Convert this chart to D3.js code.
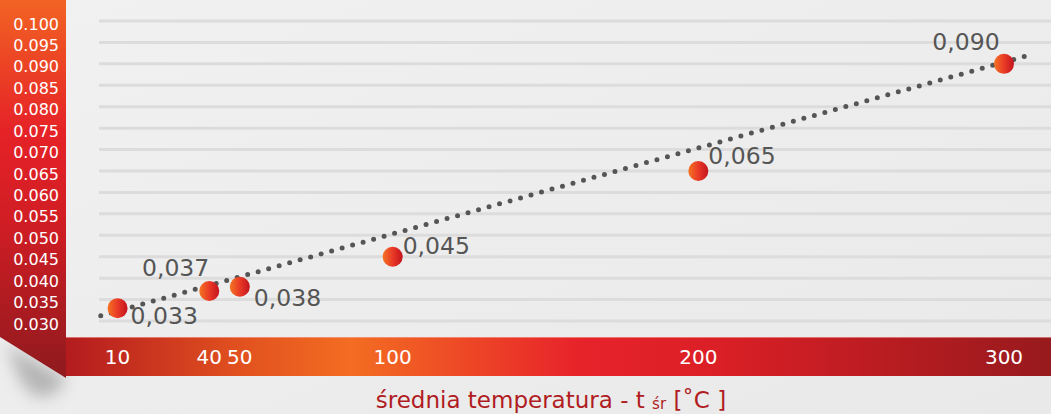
<!DOCTYPE html>
<html>
<head>
<meta charset="utf-8">
<script src="https://cdn.jsdelivr.net/npm/d3@7/dist/d3.min.js"></script>
<style>
  html, body { margin: 0; padding: 0; background: #ececec; }
  svg { display: block; }
  text { font-family: "DejaVu Sans", sans-serif; }
</style>
</head>
<body>
<svg id="chart" width="1051" height="414"></svg>
<script>
// ---- data ----
const temperatures = [10, 40, 50, 100, 200, 300];
const conductivity = [0.033, 0.037, 0.038, 0.045, 0.065, 0.090];
const xTickValues = [10, 40, 50, 100, 200, 300];
const yTickValues = [0.100, 0.095, 0.090, 0.085, 0.080, 0.075, 0.070, 0.065, 0.060, 0.055, 0.050, 0.045, 0.040, 0.035, 0.030];
const trendT = [4.5, 309.5];
const trendV = [0.0312, 0.0923];
const axisTitle = "średnia temperatura - t";
const axisTitleSub = "śr";
const axisTitleUnit = " [˚C ]";

// label placement (style, not data)
const labelPlace = [
  {anchor: "start", dx: 13, dy: 16},
  {anchor: "end", dx: 0, dy: -15},
  {anchor: "start", dx: 14, dy: 19},
  {anchor: "start", dx: 10, dy: -3},
  {anchor: "start", dx: 10, dy: -7},
  {anchor: "middle", dx: -38, dy: -14}
];

const W = 1051, H = 414;
const svg = d3.select("#chart");
const defs = svg.append("defs");

const x = d3.scaleLinear().domain([0, 300]).range([87, 1004]);
const y = d3.scaleLinear().domain([0.03, 0.1]).range([321, 21]);
const commaFmt = d3.formatLocale({decimal: ",", thousands: ".", grouping: [3], currency: ["", ""]}).format(".3f");
const dotFmt = d3.format(".3f");

// background gradient
const bg = defs.append("linearGradient").attr("id", "bg").attr("x1", 0).attr("y1", 0).attr("x2", 1).attr("y2", 1);
bg.append("stop").attr("offset", 0).attr("stop-color", "#f1f1f1");
bg.append("stop").attr("offset", 1).attr("stop-color", "#e9e9e9");
svg.append("rect").attr("width", W).attr("height", H).attr("fill", "url(#bg)");

// vertical band gradient
const vg = defs.append("linearGradient").attr("id", "vband").attr("x1", 0).attr("y1", 0).attr("x2", 0)
  .attr("gradientUnits", "userSpaceOnUse").attr("y2", 378);
vg.append("stop").attr("offset", 0).attr("stop-color", "#f26323");
vg.append("stop").attr("offset", 0.35).attr("stop-color", "#e52227");
vg.append("stop").attr("offset", 0.6).attr("stop-color", "#cf1d24");
vg.append("stop").attr("offset", 1).attr("stop-color", "#8e1a1e");

// horizontal band gradient
const hg = defs.append("linearGradient").attr("id", "hband").attr("gradientUnits", "userSpaceOnUse")
  .attr("x1", 66).attr("y1", 0).attr("x2", W).attr("y2", 0);
hg.append("stop").attr("offset", 0).attr("stop-color", "#b31b1e");
hg.append("stop").attr("offset", 0.18).attr("stop-color", "#e2521f");
hg.append("stop").attr("offset", 0.29).attr("stop-color", "#f36d22");
hg.append("stop").attr("offset", 0.52).attr("stop-color", "#e7232a");
hg.append("stop").attr("offset", 0.66).attr("stop-color", "#db1f26");
hg.append("stop").attr("offset", 1).attr("stop-color", "#971a1d");

// circle gradient
const cg = defs.append("linearGradient").attr("id", "ball").attr("x1", 0).attr("y1", 0).attr("x2", 1).attr("y2", 0);
cg.append("stop").attr("offset", 0).attr("stop-color", "#f47421");
cg.append("stop").attr("offset", 0.5).attr("stop-color", "#e93a27");
cg.append("stop").attr("offset", 1).attr("stop-color", "#c3141e");

// shadow blur
const blur = defs.append("filter").attr("id", "blur").attr("x", "-50%").attr("y", "-50%").attr("width", "200%").attr("height", "200%");
blur.append("feGaussianBlur").attr("stdDeviation", 8);

// fold shadow
svg.append("path")
  .attr("d", "M6,344 L66,378 L58,392 L38,398 L22,384 Z")
  .attr("fill", "#8f8f8f").attr("opacity", 0.6).attr("filter", "url(#blur)");

// gridlines
svg.append("g").selectAll("line").data(yTickValues).join("line")
  .attr("x1", 99).attr("x2", W)
  .attr("y1", d => y(d)).attr("y2", d => y(d))
  .attr("stroke", "#dcdcdc").attr("stroke-width", 3);

// vertical band with fold
svg.append("path").attr("d", "M0,0 L66,0 L66,378 L0,337 Z").attr("fill", "url(#vband)");

// horizontal band
svg.append("rect").attr("x", 66).attr("y", 337).attr("width", W - 66).attr("height", 39).attr("fill", "url(#hband)");
svg.append("line").attr("x1", 66).attr("x2", W).attr("y1", 337.5).attr("y2", 337.5)
  .attr("stroke", "#f4a9a0").attr("stroke-width", 1).attr("opacity", 0.6);

// y tick labels
svg.append("g").selectAll("text").data(yTickValues).join("text")
  .attr("x", 59).attr("y", d => y(d) + 3)
  .attr("text-anchor", "end").attr("dominant-baseline", "central")
  .attr("fill", "#ffffff").attr("font-size", 16)
  .text(d => dotFmt(d));

// x tick labels
svg.append("g").selectAll("text").data(xTickValues).join("text")
  .attr("x", d => x(d)).attr("y", 357)
  .attr("text-anchor", "middle").attr("dominant-baseline", "central")
  .attr("fill", "#ffffff").attr("font-size", 20)
  .text(d => d);

// trend line (dotted)
const trend = trendT.map((t, i) => [t, trendV[i]]);
svg.append("path")
  .attr("d", d3.line().x(d => x(d[0])).y(d => y(d[1]))(trend))
  .attr("fill", "none").attr("stroke", "#555555").attr("stroke-width", 5)
  .attr("stroke-linecap", "round").attr("stroke-dasharray", "0 10.9");

const pts = temperatures.map((t, i) => ({t, v: conductivity[i], p: labelPlace[i]}));

// points
svg.append("g").selectAll("circle").data(pts).join("circle")
  .attr("cx", d => x(d.t)).attr("cy", d => y(d.v)).attr("r", 10)
  .attr("fill", "url(#ball)");

// value labels
svg.append("g").selectAll("text").data(pts).join("text")
  .attr("x", d => x(d.t) + d.p.dx).attr("y", d => y(d.v) + d.p.dy)
  .attr("text-anchor", d => d.p.anchor)
  .attr("fill", "#555555").attr("font-size", 23.5)
  .text(d => commaFmt(d.v));

// axis title
const title = svg.append("text").attr("x", 551).attr("y", 408)
  .attr("text-anchor", "middle").attr("fill", "#b01c22").attr("font-size", 23);
title.append("tspan").text(axisTitle + " ");
title.append("tspan").attr("font-size", 15).attr("dy", 1).text(axisTitleSub);
title.append("tspan").attr("dy", -1).text(axisTitleUnit);
</script>
</body>
</html>
